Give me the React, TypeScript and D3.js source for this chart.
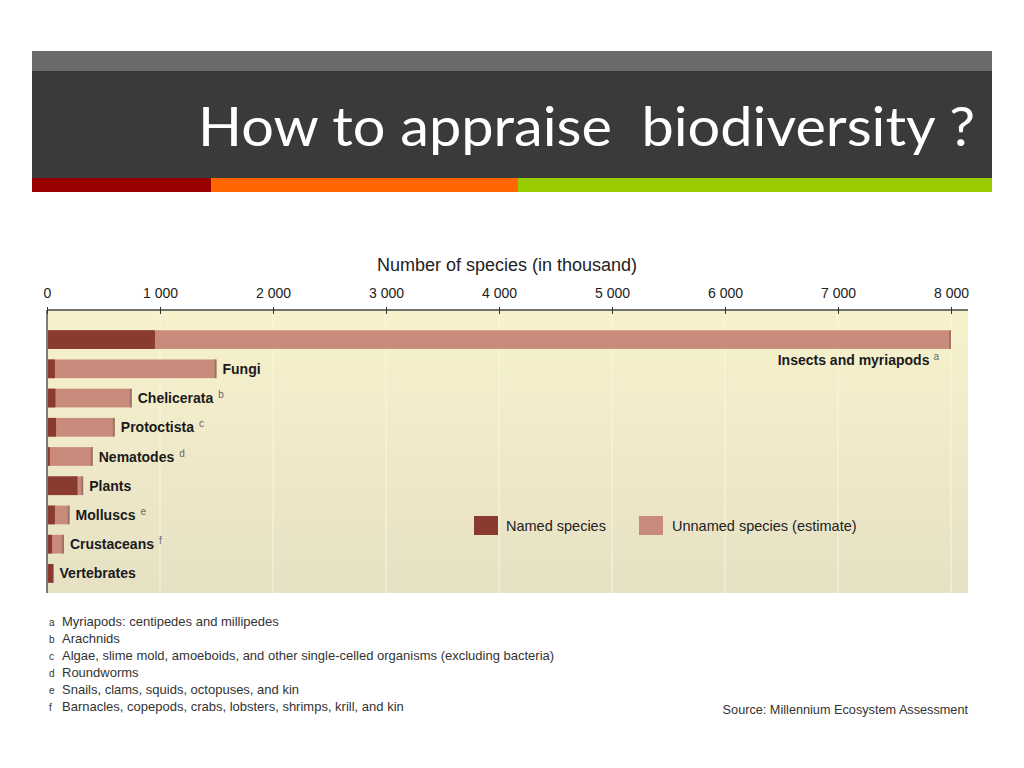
import { useRef, useEffect } from 'react';
import { scaleLinear, scaleBand, axisTop, select, formatLocale } from 'd3';

// values in thousand species
const groups = [
  'Insects and myriapods',
  'Fungi',
  'Chelicerata',
  'Protoctista',
  'Nematodes',
  'Plants',
  'Molluscs',
  'Crustaceans',
  'Vertebrates',
];
const notes = ['a', '', 'b', 'c', 'd', '', 'e', 'f', ''];
const named = [955, 70, 75, 80, 25, 270, 70, 45, 55];
const total = [8000, 1500, 750, 600, 405, 320, 200, 150, 58];
const tickValues = [0, 1000, 2000, 3000, 4000, 5000, 6000, 7000, 8000];

const footnotes = [
  ['a', 'Myriapods: centipedes and millipedes'],
  ['b', 'Arachnids'],
  ['c', 'Algae, slime mold, amoeboids, and other single-celled organisms (excluding bacteria)'],
  ['d', 'Roundworms'],
  ['e', 'Snails, clams, squids, octopuses, and kin'],
  ['f', 'Barnacles, copepods, crabs, lobsters, shrimps, krill, and kin'],
];

const NAMED = '#8a3b30';
const UNNAMED = '#c98b7c';
const FONT = 'Arial, "Liberation Sans", sans-serif';

const fmt = formatLocale({ decimal: '.', thousands: '\u2009', grouping: [3], currency: ['', ''] }).format(',');

const App = () => {
  const axisRef = useRef(null);
  const x = scaleLinear().domain([0, 8000]).range([47, 951]);
  const y = scaleBand().domain(groups).range([325, 588]).paddingInner(0.36).paddingOuter(0.18);
  const axisY = 310;

  useEffect(() => {
    if (!axisRef.current) return;
    const axis = axisTop(x)
      .tickValues(tickValues)
      .tickSize(4)
      .tickPadding(8)
      .tickFormat((d) => fmt(d as number).replace('\u2009', ' '));
    const g = select(axisRef.current);
    g.selectAll('*').remove();
    g.call(axis);
    g.select('.domain').remove();
    g.selectAll('.tick line').attr('stroke', '#333').attr('y2', 4).attr('y1', -3);
    g.selectAll('.tick text')
      .attr('fill', '#222')
      .style('font-family', FONT)
      .style('font-size', '14px');
  }, []);

  return (
    <svg width={1024} height={768} style={{ position: 'absolute', left: 0, top: 0, background: '#fff' }}>
      <defs>
        <linearGradient id="panel" x1="0" y1="0" x2="0" y2="1">
          <stop offset="0" stopColor="#f7f2cc" />
          <stop offset="0.5" stopColor="#efe9c9" />
          <stop offset="1" stopColor="#e7e1c4" />
        </linearGradient>
      </defs>

      {/* header */}
      <rect x={32} y={51} width={960} height={20} fill="#6b6b6b" />
      <rect x={32} y={71} width={960} height={107} fill="#3a3a3a" />
      <rect x={32} y={178} width={179} height={14} fill="#990000" />
      <rect x={211} y={178} width={307} height={14} fill="#ff6600" />
      <rect x={518} y={178} width={474} height={14} fill="#99cc00" />
      <text
        x={975}
        y={146}
        textAnchor="end"
        fill="#fff"
        textLength={777}
        lengthAdjust="spacingAndGlyphs"
        style={{ fontFamily: 'Lato, "Open Sans", sans-serif', fontSize: 55, whiteSpace: 'pre' }}
      >
        {'How to appraise  biodiversity ?'}
      </text>

      {/* chart panel */}
      <rect x={x(0)} y={axisY} width={968 - x(0)} height={283} fill="url(#panel)" />
      {tickValues.slice(1).map((t) => (
        <line key={t} x1={x(t)} x2={x(t)} y1={axisY} y2={593} stroke="#fbf8e6" strokeWidth={2} opacity={0.45} />
      ))}
      <line x1={x(0)} x2={968} y1={axisY} y2={axisY} stroke="#444" strokeWidth={1.3} />
      <line x1={x(0)} x2={x(0)} y1={axisY} y2={593} stroke="#555" strokeWidth={1.5} />
      <g ref={axisRef} transform={`translate(0,${axisY})`} />
      <text x={507} y={271} textAnchor="middle" fill="#222" style={{ fontFamily: FONT, fontSize: 18 }}>
        Number of species (in thousand)
      </text>

      {groups.map((g, i) => {
        const y0 = y(g) as number;
        const bw = y.bandwidth();
        const xEnd = x(total[i]);
        const first = i === 0;
        return (
          <g key={g}>
            <rect x={x(0) + 1} y={y0} width={xEnd - x(0) - 1} height={bw} fill={UNNAMED} />
            <rect x={xEnd - 2} y={y0} width={2} height={bw} fill="#8d6b5e" opacity={0.7} />
            <rect x={x(0) + 1} y={y0} width={x(named[i]) - x(0) - 1} height={bw} fill={NAMED} />
            <text
              x={first ? xEnd - 12 : xEnd + 6}
              y={first ? y0 + bw + 16 : y0 + bw / 2 + 5}
              textAnchor={first ? 'end' : 'start'}
              fill="#1a1a1a"
              style={{ fontFamily: FONT, fontSize: 14, fontWeight: 700 }}
            >
              {g}
              {notes[i] && (
                <tspan dx={first ? 4 : 5} dy={-5} fill="#666" style={{ fontSize: 10, fontWeight: 400 }}>
                  {notes[i]}
                </tspan>
              )}
            </text>
          </g>
        );
      })}

      {/* legend */}
      <rect x={474} y={516} width={24} height={19} fill={NAMED} />
      <text x={506} y={531} fill="#222" style={{ fontFamily: FONT, fontSize: 14.5 }}>Named species</text>
      <rect x={639} y={516} width={24} height={19} fill={UNNAMED} />
      <text x={672} y={531} fill="#222" style={{ fontFamily: FONT, fontSize: 14.5 }}>Unnamed species (estimate)</text>

      {/* footnotes */}
      {footnotes.map(([k, t], i) => (
        <g key={k} style={{ fontFamily: FONT, fontSize: 13 }} fill="#333">
          <text x={49} y={626 + i * 17} style={{ fontSize: 10 }}>{k}</text>
          <text x={62} y={626 + i * 17}>{t}</text>
        </g>
      ))}
      <text x={968} y={714} textAnchor="end" fill="#333" style={{ fontFamily: FONT, fontSize: 12.7 }}>
        Source: Millennium Ecosystem Assessment
      </text>
    </svg>
  );
};

export default App;
